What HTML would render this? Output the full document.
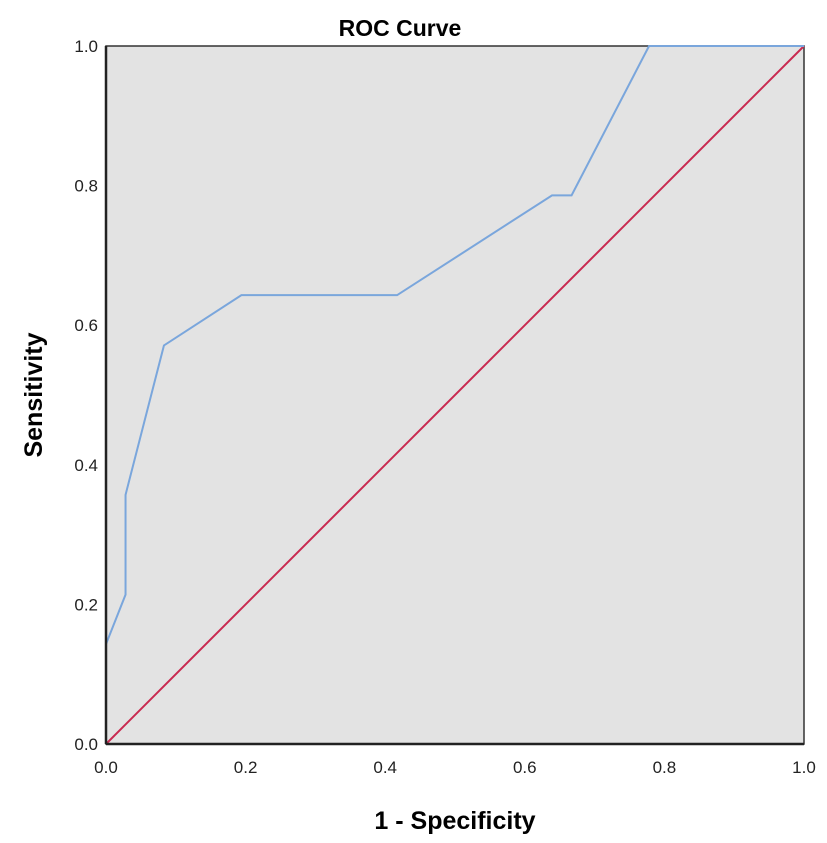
<!DOCTYPE html>
<html><head><meta charset="utf-8"><style>
body{margin:0;background:#fff;}
svg{display:block;font-family:"Liberation Sans",Arial,sans-serif;}
</style></head><body>
<svg id="chart" width="827" height="843">
<rect x="106" y="46" width="698" height="698" fill="#e3e3e3" stroke="#333" stroke-width="1.5"/>
<text x="400" y="36" font-size="23" font-weight="bold" text-anchor="middle">ROC Curve</text>
<text x="455" y="829" font-size="25" font-weight="bold" text-anchor="middle">1 - Specificity</text>
<text transform="translate(42,395) rotate(-90)" font-size="25" font-weight="bold" text-anchor="middle">Sensitivity</text>
<g id="ticks"></g>
<g id="series"></g>
<line x1="106" y1="744" x2="804" y2="744" stroke="#222" stroke-width="2.5"/>
<line x1="106" y1="46" x2="106" y2="744" stroke="#222" stroke-width="2.5"/>
</svg>
<script>
const fprValues=[0,0,0.028,0.028,0.083,0.194,0.417,0.639,0.667,0.778,1];
const tprValues=[0,0.143,0.214,0.357,0.571,0.643,0.643,0.786,0.786,1,1];
const refX=[0,1];
const refY=[0,1];
const tickValues=[0,0.2,0.4,0.6,0.8,1.0];
const tickLabels=["0.0","0.2","0.4","0.6","0.8","1.0"];
const NS="http://www.w3.org/2000/svg";
const x0=106,x1=804,y0=744,y1=46;
const sx=v=>x0+v*(x1-x0);
const sy=v=>y0-v*(y0-y1);
const tg=document.getElementById('ticks');
tickValues.forEach((v,i)=>{
  const t=document.createElementNS(NS,'text');
  t.setAttribute('x',sx(v));t.setAttribute('y',773);
  t.setAttribute('font-size','17');t.setAttribute('text-anchor','middle');t.setAttribute('fill','#222');
  t.textContent=tickLabels[i];
  
  
  tg.appendChild(t);
  const u=document.createElementNS(NS,'text');
  u.setAttribute('x',98);u.setAttribute('y',sy(v)+6);
  u.setAttribute('font-size','17');u.setAttribute('text-anchor','end');u.setAttribute('fill','#222');
  u.textContent=tickLabels[i];
  
  
  tg.appendChild(u);
});
const sg=document.getElementById('series');
function poly(xs,ys,color,name){
  const p=document.createElementNS(NS,'polyline');
  p.setAttribute('points',xs.map((v,i)=>sx(v)+','+sy(ys[i])).join(' '));
  p.setAttribute('fill','none');p.setAttribute('stroke',color);p.setAttribute('stroke-width','2');
  
  
  sg.appendChild(p);
}
poly(refX,refY,'#c92a50','reference-line');
poly(fprValues,tprValues,'#7aa6dc','roc-curve');
</script>
</body></html>
